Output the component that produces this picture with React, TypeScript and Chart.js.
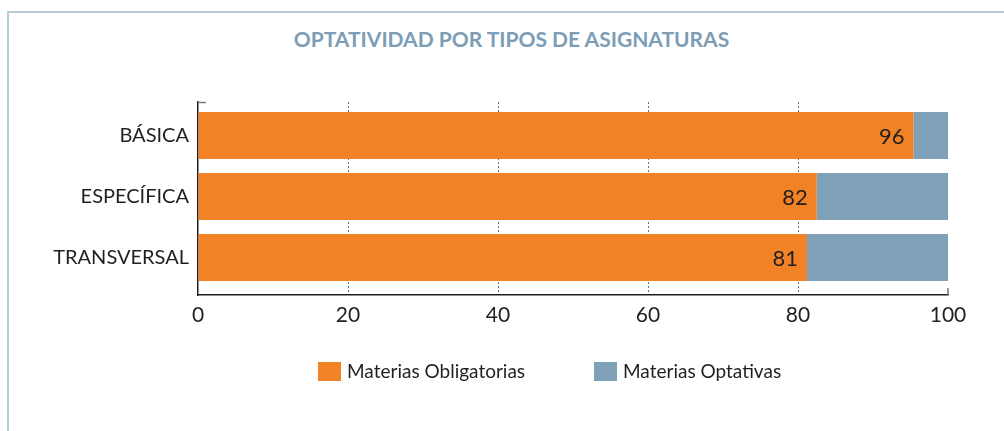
import React, { useEffect, useRef } from "react";
import { Chart, registerables } from "chart.js";

Chart.register(...registerables);

const categories = ["BÁSICA", "ESPECÍFICA", "TRANSVERSAL"];
const obligatorias = [95.4, 82.5, 81.2];
const optativas = [4.6, 17.5, 18.8];
const valueLabels = ["96", "82", "81"];
const xTicks = [0, 20, 40, 60, 80, 100];
const seriesNames = ["Materias Obligatorias", "Materias Optativas"];
const title = "OPTATIVIDAD POR TIPOS DE ASIGNATURAS";

const ORANGE = "#f28226";
const BLUE = "#7fa1b7";
const TEXT = "#231f20";
const FONT = "Lato, sans-serif";

const valueLabelPlugin = {
  id: "valueLabels",
  afterDatasetsDraw(chart: any) {
    const meta = chart.getDatasetMeta(0);
    const ctx = chart.ctx;
    ctx.save();
    ctx.font = `22px ${FONT}`;
    ctx.fillStyle = TEXT;
    ctx.textAlign = "right";
    ctx.textBaseline = "middle";
    meta.data.forEach((bar: any, i: number) => {
      ctx.fillText(valueLabels[i], bar.x - 9, bar.y + 1);
    });
    ctx.restore();
  },
};

const axisTickPlugin = {
  id: "axisTicks",
  afterDraw(chart: any) {
    const { ctx, chartArea } = chart;
    ctx.save();
    ctx.strokeStyle = "#777777";
    ctx.lineWidth = 1.5;
    ctx.beginPath();
    ctx.moveTo(chartArea.left, chartArea.top + 0.5);
    ctx.lineTo(chartArea.left + 8, chartArea.top + 0.5);
    const xr = chart.scales.x.getPixelForValue(100);
    ctx.moveTo(xr, chartArea.bottom);
    ctx.lineTo(xr, chartArea.bottom - 7);
    ctx.stroke();
    ctx.restore();
  },
};

export default function App() {
  const canvasRef = useRef<HTMLCanvasElement | null>(null);

  useEffect(() => {
    document.body.style.margin = "0";
    const canvas = canvasRef.current;
    if (!canvas) return;
    const chart = new Chart(canvas, {
      type: "bar",
      data: {
        datasets: [
          {
            label: seriesNames[0],
            data: obligatorias.map((v, i) => ({ x: v, y: i })),
            backgroundColor: ORANGE,
            borderWidth: 0,
          },
          {
            label: seriesNames[1],
            data: optativas.map((v, i) => ({ x: v, y: i })),
            backgroundColor: BLUE,
            borderWidth: 0,
          },
        ],
      },
      options: {
        indexAxis: "y",
        animation: false,
        responsive: false,
        maintainAspectRatio: false,
        barPercentage: 0.77,
        categoryPercentage: 1,
        layout: { padding: { left: 8, right: 56, top: 102, bottom: 106 } },
        plugins: {
          legend: { display: false },
          title: { display: false },
          tooltip: { enabled: false },
        },
        scales: {
          x: {
            type: "linear",
            stacked: true,
            min: 0,
            max: 100,
            afterBuildTicks: (scale: any) => {
              scale.ticks = xTicks.map((v) => ({ value: v }));
            },
            afterFit: (scale: any) => {
              scale.height = 30;
            },
            ticks: {
              color: TEXT,
              font: { family: FONT, size: 21 },
              padding: 8,
              maxRotation: 0,
            },
            grid: {
              drawTicks: false,
              color: (c: any) =>
                c.tick && (c.tick.value === 0 || c.tick.value === 100) ? "rgba(0,0,0,0)" : "#6d6e71",
              lineWidth: 1,
            },
            border: { display: true, color: "#231f20", width: 1.5, dash: [2, 2] },
          },
          y: {
            type: "linear",
            stacked: true,
            reverse: true,
            offset: false,
            min: -0.549,
            max: 2.615,
            afterBuildTicks: (scale: any) => {
              scale.ticks = categories.map((_, i) => ({ value: i }));
            },
            afterFit: (scale: any) => {
              scale.width = 190;
            },
            ticks: {
              color: TEXT,
              font: { family: FONT, size: 20 },
              padding: 9,
              callback: (v: any) => categories[v] ?? "",
            },
            grid: { display: false, drawTicks: false, offset: false },
            border: { display: true, color: "#231f20", width: 1.5 },
          },
        },
      },
      plugins: [valueLabelPlugin, axisTickPlugin],
    } as any);
    return () => chart.destroy();
  }, []);

  return (
    <div style={{ position: "absolute", left: 0, top: 0, width: 1004, height: 431, background: "#fff", overflow: "hidden" }}>
      <div
        style={{
          position: "absolute",
          left: 7,
          top: 11,
          width: 1100,
          height: 500,
          borderLeft: "2px solid #b8cbd7",
          borderTop: "2px solid #b8cbd7",
        }}
      />
      <div
        style={{
          position: "absolute",
          left: 0,
          width: 1023,
          top: 25,
          textAlign: "center",
          fontFamily: FONT,
          fontWeight: "bold",
          fontSize: 21,
          color: "#7c9db5",
          lineHeight: "28px",
        }}
      >
        {title}
      </div>
      <canvas ref={canvasRef} width={1004} height={431} style={{ position: "absolute", left: 0, top: 0 }} />
      <div style={{ position: "absolute", left: 318, top: 362, width: 23, height: 19, background: ORANGE }} />
      <div style={{ position: "absolute", left: 347, top: 357, fontFamily: FONT, fontSize: 19, color: TEXT, lineHeight: "28px", whiteSpace: "nowrap" }}>
        {seriesNames[0]}
      </div>
      <div style={{ position: "absolute", left: 594, top: 362, width: 23, height: 19, background: BLUE }} />
      <div style={{ position: "absolute", left: 623, top: 357, fontFamily: FONT, fontSize: 19, color: TEXT, lineHeight: "28px", whiteSpace: "nowrap" }}>
        {seriesNames[1]}
      </div>
    </div>
  );
}
